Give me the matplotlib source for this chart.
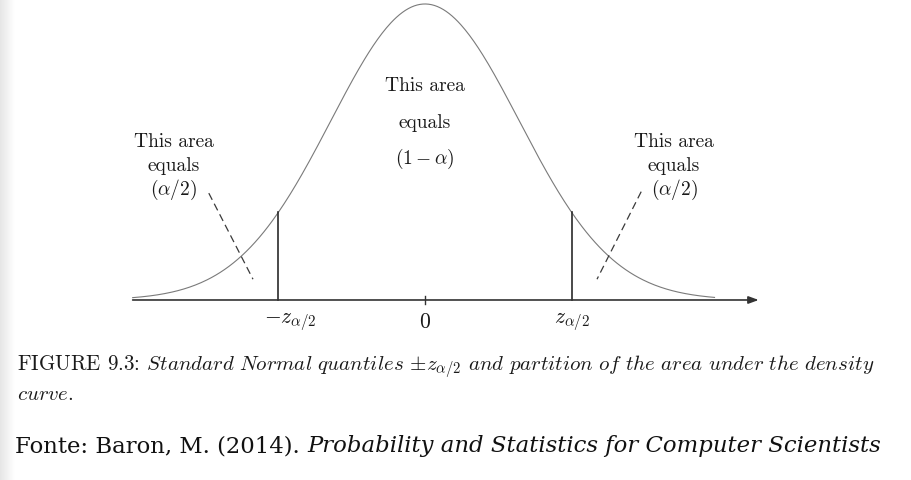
import numpy as np
import matplotlib
matplotlib.use("Agg")
import matplotlib.pyplot as plt

plt.rcParams['mathtext.fontset'] = 'cm'
plt.rcParams['font.family'] = 'cmr10'
plt.rcParams['axes.formatter.use_mathtext'] = True

# chart values
z_crit = 1.56
curve_lo, curve_hi = -3.11, 3.08
axis_lo, axis_hi = -3.11, 3.55
tick_labels = [r"$-z_{\alpha/2}$", r"$0$", r"$z_{\alpha/2}$"]
tick_pos = [-z_crit, 0.0, z_crit]
# dashed pointers (x0, y0, x1, y1)
left_ptr = (-2.30, 0.144, -1.83, 0.028)
right_ptr = (2.30, 0.146, 1.83, 0.028)
left_txt = ["This area", "equals", r"$(\alpha/2)$"]
mid_txt = ["This area", "equals", r"$(1-\alpha)$"]
right_txt = ["This area", "equals", r"$(\alpha/2)$"]


def pdf(z):
    return np.exp(-z ** 2 / 2) / np.sqrt(2 * np.pi)


fig = plt.figure(figsize=(9.12, 4.8), dpi=100)

# light shading at the left edge of the scan
gax = fig.add_axes([0, 0, 0.016, 1], zorder=0)
grad = np.linspace(0.9, 1.0, 50).reshape(1, -1)
gax.imshow(grad, aspect='auto', cmap='gray', vmin=0, vmax=1, extent=[0, 1, 0, 1])
gax.axis('off')

ax = fig.add_axes([0, 0, 1, 1], zorder=1)
ax.patch.set_alpha(0)
ax.set_xlim(-425 / 94, 487 / 94)
ax.set_ylim(-0.2426, 0.4043)
ax.axis('off')

zz = np.linspace(curve_lo, curve_hi, 400)
ax.plot(zz, pdf(zz), color='#7a7a7a', lw=0.8)

ax.annotate('', xy=(axis_hi, 0), xytext=(axis_lo, 0),
            arrowprops=dict(arrowstyle='-|>,head_length=0.6,head_width=0.22',
                            color='#333333', lw=1.2, shrinkA=0, shrinkB=0))

for zc in (-z_crit, z_crit):
    ax.plot([zc, zc], [0, pdf(zc)], color='#2a2a2a', lw=1.2)

ax.plot([0, 0], [-0.006, 0.006], color='#333333', lw=1.0)

for p, lab in zip(tick_pos, tick_labels):
    dx = 0.13 if p < 0 else 0.0
    ax.text(p + dx, -0.03, lab, ha='center', va='center', fontsize=15.5, color='#1a1a1a')

for ptr in (left_ptr, right_ptr):
    ax.plot([ptr[0], ptr[2]], [ptr[1], ptr[3]], color='#3a3a3a', lw=0.9,
            dashes=(6, 3.5))

line_h = [0.213, 0.181, 0.148]
for lines, xc, ys in ((left_txt, -2.67, line_h), (right_txt, 2.65, line_h),
                      (mid_txt, 0.0, [0.288, 0.238, 0.190])):
    for s, y in zip(lines, ys):
        ax.text(xc, y, s, ha='center', va='center', fontsize=14, color='#1a1a1a')

cap = (r"FIGURE 9.3: $\mathit{Standard\ Normal\ quantiles}$ $\pm z_{\alpha/2}$ "
       r"$\mathit{and\ partition\ of\ the\ area\ under\ the\ density}$")
fig.text(17 / 912, 1 - 367 / 480, cap, ha='left', va='center', fontsize=15.1, color='#1a1a1a')
fig.text(17 / 912, 1 - 394 / 480, r"$\mathit{curve.}$", ha='left', va='center',
         fontsize=15.1, color='#1a1a1a')

src1 = "Fonte: Baron, M. (2014). "
src2 = "Probability and Statistics for Computer Scientists"
t1 = fig.text(15 / 912, 1 - 446 / 480, src1, ha='left', va='center', fontsize=16.4,
              family='DejaVu Serif', color='#111111')
r = fig.canvas.get_renderer()
bb = t1.get_window_extent(renderer=r)
fig.text(bb.x1 / 912, 1 - 446 / 480, src2, ha='left', va='center', fontsize=16.4,
         family='DejaVu Serif', style='italic', color='#111111')

fig.savefig('out.png', dpi=100)
